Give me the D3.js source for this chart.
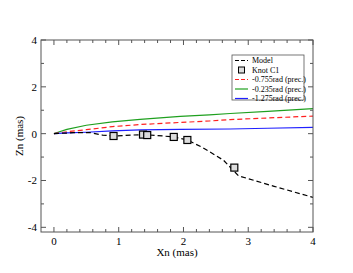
<!DOCTYPE html>
<html lang="en">
<head>
<meta charset="UTF-8">
<title></title>
<script src="https://cdn.jsdelivr.net/npm/d3@7"></script>
<style>
  body { margin: 0; background: #fff; }
  text { font-family: "Liberation Serif", "DejaVu Serif", serif; fill: #000; }
</style>
</head>
<body>
<div id="chart"></div>
<script>
// data
var model = [[0,0],[0.3,0.04],[0.55,0.05],[0.75,-0.06],[0.92,-0.1],[1.2,-0.06],[1.38,-0.04],
             [1.6,-0.08],[1.85,-0.14],[2.06,-0.27],[2.3,-0.6],[2.62,-1.14],[2.85,-1.8],[3.4,-2.25],[4,-2.72]];
var knots = [[0.92,-0.1],[1.375,-0.04],[1.44,-0.06],[1.85,-0.14],[2.06,-0.27],[2.785,-1.45]];
var prec0755 = [[0,0],[0.2,0.08],[0.5,0.17],[0.9,0.3],[1.33,0.39],[1.95,0.48],[2.4,0.54],[2.72,0.6],[3.3,0.67],[4,0.75]];
var prec0235 = [[0,0],[0.05,0.05],[0.2,0.18],[0.5,0.36],[0.9,0.5],[1.33,0.61],[1.95,0.74],[2.4,0.8],[2.72,0.86],[3.3,0.95],[4,1.07]];
var prec1275 = [[0,0],[0.2,0.03],[0.5,0.06],[0.9,0.12],[1.33,0.16],[1.95,0.18],[2.72,0.2],[3.3,0.23],[4,0.27]];
var legendLabels = ["Model", "Knot C1", "-0.755rad (prec.)", "-0.235rad (prec.)", "-1.275rad (prec.)"];
var xTicks = [0, 1, 2, 3, 4];
var yTicks = [-4, -2, 0, 2, 4];

var W = 353, H = 273;
var x = d3.scaleLinear().domain([-0.2, 4]).range([41, 313]);
var y = d3.scaleLinear().domain([-4.2, 4]).range([232, 40]);

var svg = d3.select("#chart").append("svg")
    .attr("width", W).attr("height", H);

var frameColor = "#555";

// ticks, inward on all four sides
function minors(a, b, s) {
    var out = [];
    for (var i = Math.round(a / s); i * s <= b + 1e-9; i++) out.push(+(i * s).toFixed(3));
    return out;
}
var xMinor = minors(0, 4, 0.2).filter(function (v) { return xTicks.indexOf(v) < 0; });
var yMinor = minors(-4, 4, 1).filter(function (v) { return yTicks.indexOf(v) < 0; });

var tk = svg.append("g").attr("stroke", frameColor).attr("stroke-width", 1);
function xt(v, len) {
    tk.append("line").attr("x1", x(v)).attr("x2", x(v)).attr("y1", 232).attr("y2", 232 - len);
    tk.append("line").attr("x1", x(v)).attr("x2", x(v)).attr("y1", 40).attr("y2", 40 + len);
}
function yt(v, len) {
    tk.append("line").attr("y1", y(v)).attr("y2", y(v)).attr("x1", 41).attr("x2", 41 + len);
    tk.append("line").attr("y1", y(v)).attr("y2", y(v)).attr("x1", 313).attr("x2", 313 - len);
}
xTicks.forEach(function (v) { xt(v, 5); });
xMinor.forEach(function (v) { xt(v, 3); });
yTicks.forEach(function (v) { yt(v, 5); });
yMinor.forEach(function (v) { yt(v, 3); });

// tick labels
svg.selectAll(".xl").data(xTicks).enter().append("text")
    .attr("x", function (d) { return x(d); }).attr("y", 245)
    .attr("text-anchor", "middle").attr("font-size", 11)
    .text(function (d) { return d; });
svg.selectAll(".yl").data(yTicks).enter().append("text")
    .attr("x", 37).attr("y", function (d) { return y(d) + 4; })
    .attr("text-anchor", "end").attr("font-size", 11)
    .text(function (d) { return d; });

svg.append("text").attr("x", 177).attr("y", 256).attr("text-anchor", "middle")
    .attr("font-size", 11).text("Xn (mas)");
svg.append("text").attr("transform", "translate(23,136) rotate(-90)")
    .attr("text-anchor", "middle").attr("font-size", 11).text("Zn (mas)");

// curves
var line = d3.line().x(function (d) { return x(d[0]); }).y(function (d) { return y(d[1]); });
var clip = svg.append("clipPath").attr("id", "clip").append("rect")
    .attr("x", 41).attr("y", 40).attr("width", 272).attr("height", 192);
var plot = svg.append("g").attr("clip-path", "url(#clip)");

var series = [
    { data: prec0235, color: "#1fa01f", dash: null },
    { data: prec0755, color: "#ff2020", dash: "5,3" },
    { data: prec1275, color: "#2020ff", dash: null },
    { data: model, color: "#000", dash: "5,3" }
];
series.forEach(function (s) {
    plot.append("path").datum(s.data).attr("d", line)
        .attr("fill", "none").attr("stroke", s.color).attr("stroke-width", 1.2)
        .attr("stroke-dasharray", s.dash);
});

plot.selectAll(".knot").data(knots).enter().append("rect")
    .attr("x", function (d) { return x(d[0]) - 3.5; })
    .attr("y", function (d) { return y(d[1]) - 3.5; })
    .attr("width", 7).attr("height", 7)
    .attr("fill", "#ddd").attr("stroke", "#000").attr("stroke-width", 1.2);

// frame
svg.append("rect").attr("x", 41).attr("y", 40).attr("width", 272).attr("height", 192)
    .attr("fill", "none").attr("stroke", frameColor).attr("stroke-width", 1);

// legend
var lg = svg.append("g");
lg.append("rect").attr("x", 232).attr("y", 55).attr("width", 72).attr("height", 45)
    .attr("fill", "#fff").attr("stroke", "#555").attr("stroke-width", 0.8);
var legendStyle = [
    { color: "#000", dash: "4,2" },
    { color: null },
    { color: "#ff2020", dash: "4,2" },
    { color: "#1fa01f", dash: null },
    { color: "#2020ff", dash: null }
];
legendLabels.forEach(function (lab, i) {
    var ly = 60.5 + i * 9.5;
    var st = legendStyle[i];
    if (st.color) {
        lg.append("line").attr("x1", 235).attr("x2", 248).attr("y1", ly).attr("y2", ly)
            .attr("stroke", st.color).attr("stroke-width", 1.2).attr("stroke-dasharray", st.dash);
    } else {
        lg.append("rect").attr("x", 238.5).attr("y", ly - 3).attr("width", 6).attr("height", 6)
            .attr("fill", "#ddd").attr("stroke", "#000").attr("stroke-width", 1);
    }
    lg.append("text").attr("x", 252).attr("y", ly + 2.8).attr("font-size", 8).text(lab);
});
</script>
</body>
</html>
